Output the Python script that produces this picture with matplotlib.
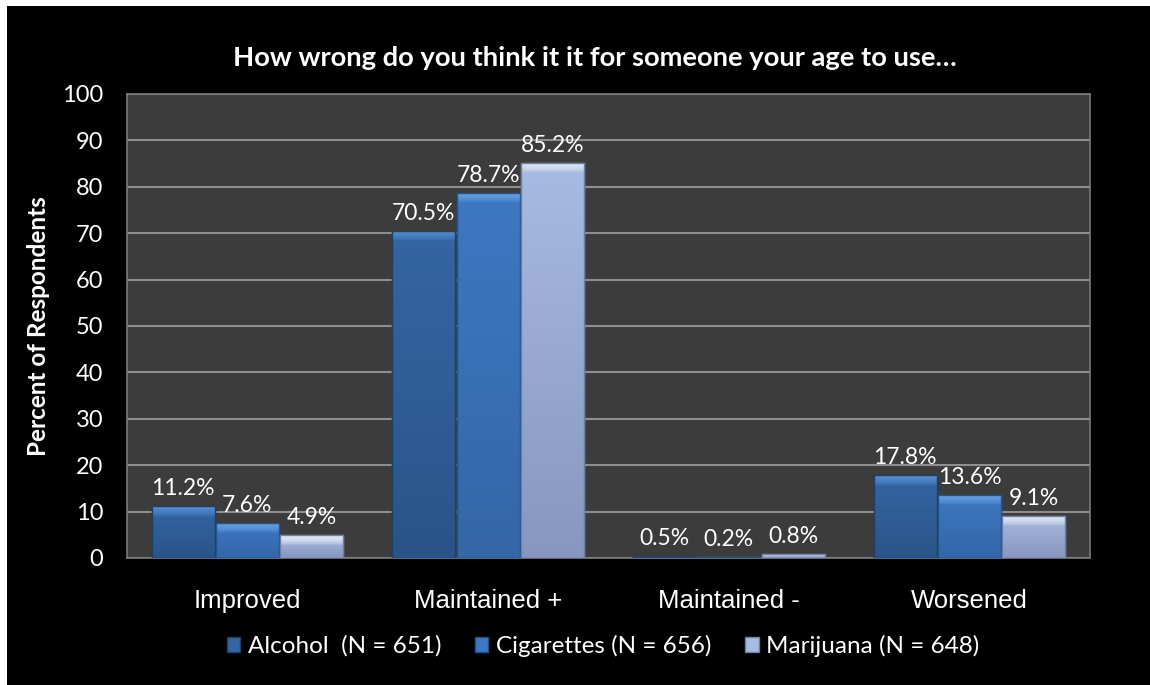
import numpy as np
import matplotlib.pyplot as plt
from matplotlib.patches import Rectangle
from matplotlib.colors import to_rgb

# data
categories = ["Improved", "Maintained +", "Maintained -", "Worsened"]
series = ["Alcohol  (N = 651)", "Cigarettes (N = 656)", "Marijuana (N = 648)"]
alcohol = [11.2, 70.5, 0.5, 17.8]
cigarettes = [7.6, 78.7, 0.2, 13.6]
marijuana = [4.9, 85.2, 0.8, 9.1]
yticks = list(range(0, 101, 10))

# body colour (top, bottom) and bevel highlight for each series
body_top = ["#3466A3", "#3E78C2", "#A8BBE2"]
body_bot = ["#2A5488", "#3466A8", "#8797BF"]
bevel = ["#5590D6", "#68A6E8", "#E6EDF9"]
edges = ["#1F3F66", "#24528C", "#6F7FA3"]

fig = plt.figure(figsize=(11.5, 6.85), dpi=100, facecolor="white")
# black chart area (white sliver at top and left, as in the reference)
fig.patches.append(Rectangle((7 / 1150, -0.05), 1.1, 1.05 - 6 / 685, transform=fig.transFigure,
                             facecolor="black", edgecolor="none", zorder=-5))

ax = fig.add_axes([127 / 1150, (685 - 558) / 685, (1090 - 127) / 1150, (558 - 94) / 685])
ax.set_zorder(2)
ax.set_facecolor("#3C3C3C")

x = np.arange(len(categories))
w = 0.267
num_font = "Lato"
bevel_h = 2.2  # bevel depth in data units (~10 px)


def shade(bar, top_c, bot_c, bev_c):
    x0, h, bw = bar.get_x(), bar.get_height(), bar.get_width()
    if h <= 0:
        return
    n = 300
    ys = (np.arange(n) + 0.5) / n * h
    t = ys / h
    rgb = np.outer(1 - t, to_rgb(bot_c)) + np.outer(t, to_rgb(top_c))
    d = min(bevel_h, h * 0.5)
    depth = h - ys
    m = depth < d
    f = (1 - depth[m] / d)[:, None] ** 0.6
    rgb[m] = rgb[m] * (1 - f) + np.array(to_rgb(bev_c)) * f
    img = np.repeat(rgb[:, None, :], 2, axis=1)
    im = ax.imshow(img, extent=[x0, x0 + bw, 0, h], origin="lower", aspect="auto",
                   interpolation="bilinear", zorder=3)
    im.set_clip_path(bar)


for i, vals in enumerate([alcohol, cigarettes, marijuana]):
    pos = x + (i - 1) * w
    bars = ax.bar(pos, vals, w * 0.98, color=body_top[i], edgecolor=edges[i], linewidth=1,
                  label=series[i], zorder=3)
    for b, v in zip(bars, vals):
        shade(b, body_top[i], body_bot[i], bevel[i])
        ax.add_patch(Rectangle((b.get_x(), 0), b.get_width(), v, facecolor="none",
                               edgecolor=edges[i], linewidth=1, zorder=3.5))
        ax.annotate(f"{v}%", (b.get_x() + b.get_width() / 2, v), xytext=(0, 5),
                    textcoords="offset points", ha="center", va="bottom",
                    color="white", fontsize=16.5, family=num_font, zorder=4)

ax.set_xlim(-0.5, len(categories) - 0.5)
ax.set_ylim(0, 100)
ax.set_aspect("auto")
ax.set_yticks(yticks)
ax.yaxis.grid(True, color="#8E8E8E", linewidth=1.5, zorder=1)
ax.set_axisbelow(True)
for s in ax.spines.values():
    s.set_color("#7A7A7A")
    s.set_linewidth(1.2)
ax.tick_params(axis="y", length=0, pad=17, labelcolor="white", labelsize=17)
ax.tick_params(axis="x", length=0, pad=22, labelcolor="white", labelsize=18.5)
for t in ax.get_yticklabels():
    t.set_family(num_font)
ax.set_xticks(x)
ax.set_xticklabels(categories, family="Liberation Sans")

ax.set_ylabel("Percent of Respondents", color="white", fontsize=17.5, fontweight="bold",
              family="Lato", labelpad=9)
fig.text(595 / 1150, 1 - 58 / 685, "How wrong do you think it it for someone your age to use…",
         ha="center", va="center", color="white", fontsize=19.7, fontweight="bold", family="Lato")

leg = fig.legend(loc="center", bbox_to_anchor=(603 / 1150, 1 - 646 / 685), ncol=3,
                 frameon=False, handlelength=0.55, handleheight=0.55,
                 handletextpad=0.3, columnspacing=1.4, prop={"family": "Lato", "size": 17.5})
for t in leg.get_texts():
    t.set_color("white")

fig.savefig("out.png", dpi=100, facecolor=fig.get_facecolor())
